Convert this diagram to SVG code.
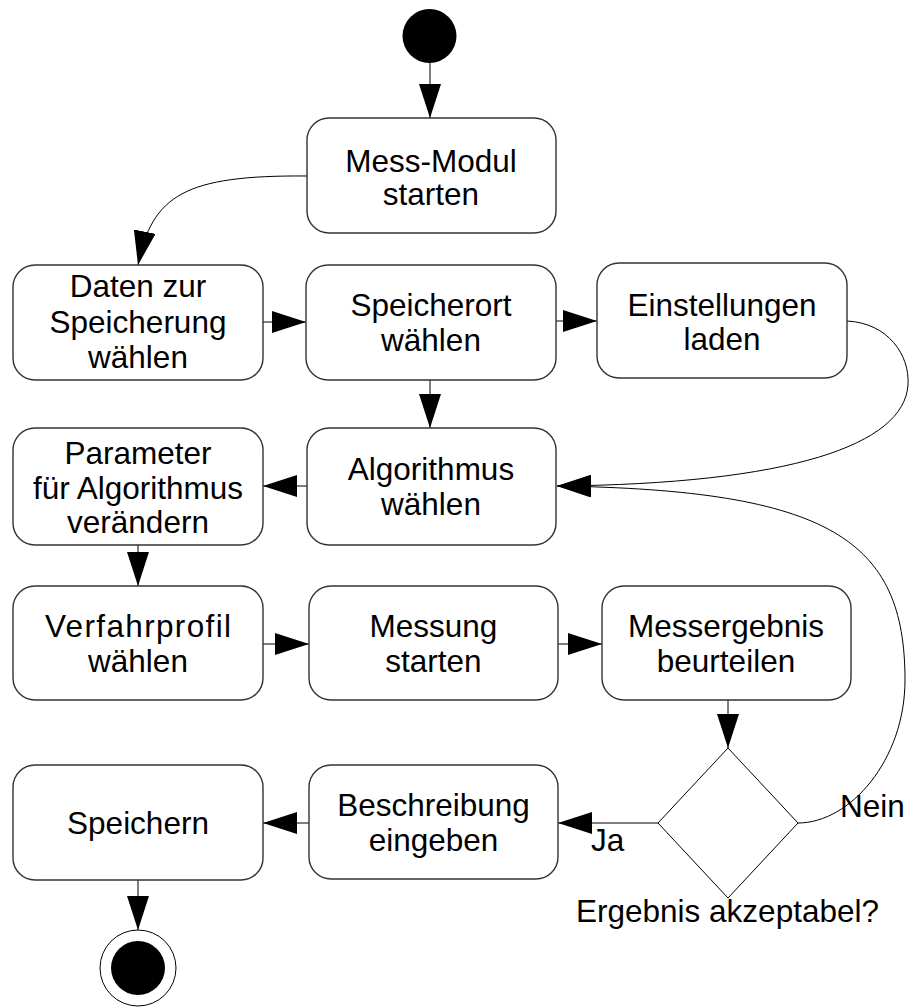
<svg xmlns="http://www.w3.org/2000/svg" width="909" height="1007" viewBox="0 0 909 1007">
  <style>
    .box { fill: #fff; stroke: #333; stroke-width: 1.4; }
    .lbl { font-family: "Liberation Sans", Arial, sans-serif; font-size: 31.5px; fill: #000; text-anchor: middle; }
    .tag { font-family: "Liberation Sans", Arial, sans-serif; font-size: 31.5px; fill: #000; }
    .edge { fill: none; stroke: #000; stroke-width: 1; marker-end: url(#ah); }
  </style>
  <defs>
    <marker id="ah" markerUnits="userSpaceOnUse" viewBox="0 0 34 22" markerWidth="34" markerHeight="22" refX="34" refY="11" orient="auto">
      <path d="M0,0 L34,11 L0,22 z" fill="#000"/>
    </marker>
  </defs>

  <rect width="909" height="1007" fill="#fff"/>

  <!-- connectors -->
  <g id="connectors">
    <path class="edge" d="M430,63 L430,118"/>
    <path class="edge" d="M307,176 C185,175 152,195 138,265"/>
    <path class="edge" d="M263,322 L306,322"/>
    <path class="edge" d="M556,321 L597,321"/>
    <path class="edge" d="M430,379 L430,428"/>
    <path class="edge" d="M847,321 C888,323 910,355 908,385 C904,445 790,484 557,486"/>
    <path class="edge" d="M307,486 L263,486"/>
    <path class="edge" d="M138,545 L138,586"/>
    <path class="edge" d="M263,644 L309,644"/>
    <path class="edge" d="M558,644 L602,644"/>
    <path class="edge" d="M728,700 L728,748"/>
    <path class="edge" d="M798,823 C850,823 905,760 905,680 C905,540 830,490 557,486"/>
    <path class="edge" d="M658,823 L558,823"/>
    <path class="edge" d="M309,823 L263,823"/>
    <path class="edge" d="M138,880 L138,930"/>
  </g>

  <!-- start -->
  <g id="start">
    <circle cx="429.5" cy="36" r="27" fill="#000"/>
  </g>

  <g id="mess-modul">
    <rect class="box" x="307" y="118" width="249" height="115" rx="22"/>
    <text class="lbl" x="431" y="172">Mess-Modul</text>
    <text class="lbl" x="431" y="205">starten</text>
  </g>

  <g id="daten">
    <rect class="box" x="13" y="265" width="250" height="115" rx="22"/>
    <text class="lbl" x="138" y="297">Daten zur</text>
    <text class="lbl" x="138" y="333">Speicherung</text>
    <text class="lbl" x="138" y="368">wählen</text>
  </g>

  <g id="speicherort">
    <rect class="box" x="306" y="265" width="250" height="115" rx="22"/>
    <text class="lbl" x="431" y="316">Speicherort</text>
    <text class="lbl" x="431" y="351">wählen</text>
  </g>

  <g id="einstellungen">
    <rect class="box" x="597" y="263" width="250" height="115" rx="22"/>
    <text class="lbl" x="722" y="316">Einstellungen</text>
    <text class="lbl" x="722" y="350">laden</text>
  </g>

  <g id="parameter">
    <rect class="box" x="13" y="428" width="250" height="117" rx="22"/>
    <text class="lbl" x="138" y="464">Parameter</text>
    <text class="lbl" x="138" y="499">für Algorithmus</text>
    <text class="lbl" x="138" y="533">verändern</text>
  </g>

  <g id="algorithmus">
    <rect class="box" x="307" y="428" width="249" height="117" rx="22"/>
    <text class="lbl" x="431" y="480">Algorithmus</text>
    <text class="lbl" x="431" y="515">wählen</text>
  </g>

  <g id="verfahrprofil">
    <rect class="box" x="13" y="586" width="250" height="114" rx="22"/>
    <text class="lbl" x="138" y="637" textLength="186" lengthAdjust="spacing">Verfahrprofil</text>
    <text class="lbl" x="138" y="672">wählen</text>
  </g>

  <g id="messung">
    <rect class="box" x="309" y="586" width="249" height="114" rx="22"/>
    <text class="lbl" x="433.5" y="637">Messung</text>
    <text class="lbl" x="433.5" y="672">starten</text>
  </g>

  <g id="messergebnis">
    <rect class="box" x="602" y="586" width="249" height="114" rx="22"/>
    <text class="lbl" x="726" y="637">Messergebnis</text>
    <text class="lbl" x="726" y="672">beurteilen</text>
  </g>

  <g id="entscheidung">
    <polygon points="728,748 798,823 728,898 658,823" fill="#fff" stroke="#000" stroke-width="1"/>
    <text class="lbl" x="727.5" y="922">Ergebnis akzeptabel?</text>
  </g>

  <g id="beschreibung">
    <rect class="box" x="309" y="765" width="249" height="114" rx="22"/>
    <text class="lbl" x="433.5" y="816">Beschreibung</text>
    <text class="lbl" x="433.5" y="851">eingeben</text>
  </g>

  <g id="speichern">
    <rect class="box" x="13" y="765" width="250" height="115" rx="22"/>
    <text class="lbl" x="138" y="834">Speichern</text>
  </g>

  <!-- branch labels -->
  <g id="labels">
    <text class="tag" x="591" y="851">Ja</text>
    <text class="tag" x="840" y="817">Nein</text>
  </g>

  <!-- end -->
  <g id="end">
    <circle cx="138" cy="968" r="38" fill="#fff" stroke="#000" stroke-width="1"/>
    <circle cx="138" cy="968" r="27" fill="#000"/>
  </g>
</svg>
